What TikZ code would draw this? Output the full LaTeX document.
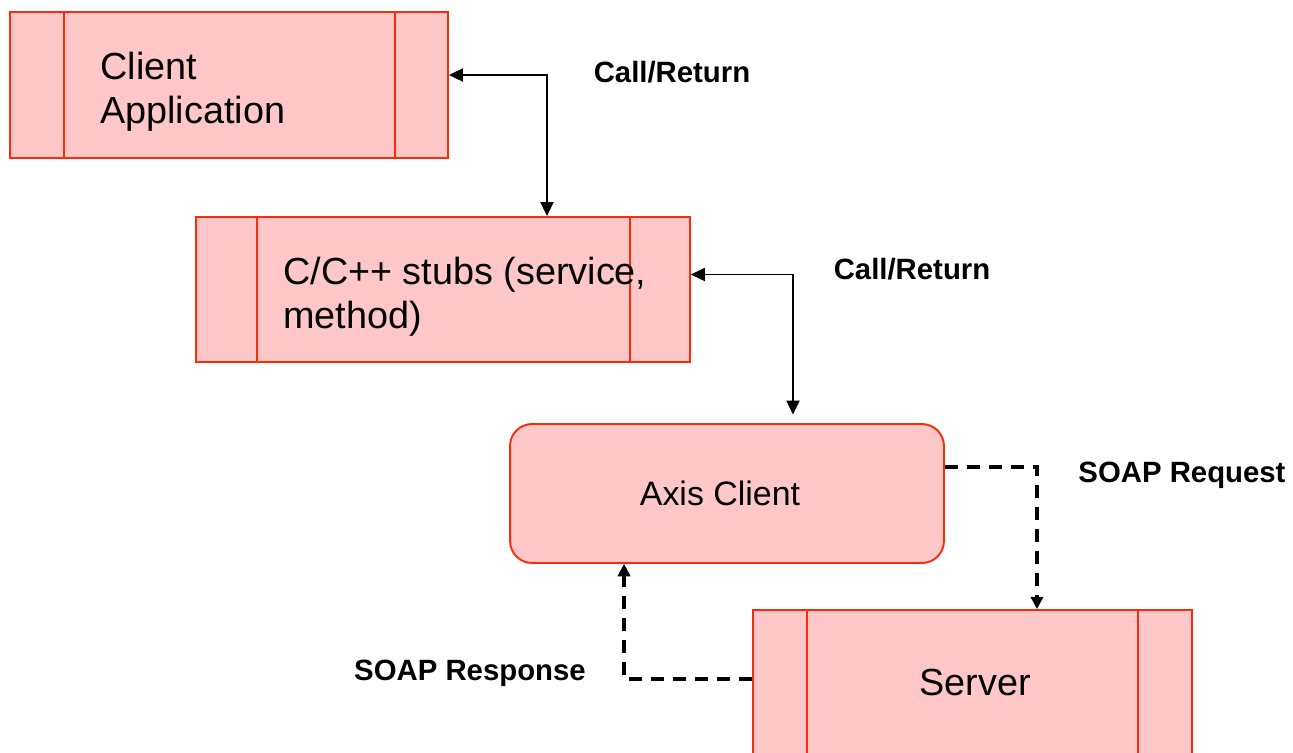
\documentclass[tikz,border=0pt]{standalone}
\usepackage{fontspec}
\setmainfont{Liberation Sans}
\usetikzlibrary{arrows.meta}
\definecolor{boxfill}{RGB}{255,199,199}
\definecolor{boxred}{RGB}{250,45,10}
\tikzset{
  box/.style={draw=boxred, fill=boxfill, line width=1.1pt, inner sep=0pt},
  boxline/.style={draw=boxred, line width=1.1pt},
  bigtext/.style={align=left, inner sep=0pt, font=\fontsize{21.5}{25}\selectfont},
  lbl/.style={font=\bfseries\fontsize{16.7}{20}\selectfont},
  callret/.style={line width=0.9pt, {Triangle[length=8pt,width=7.5pt]}-{Triangle[length=8pt,width=7.5pt]}},
  soap/.style={line width=2pt, dash pattern=on 7.5pt off 5pt, -{Triangle[length=7pt,width=7pt]}}
}
\begin{document}
\begin{tikzpicture}[x=0.02cm, y=-0.02cm]
    \useasboundingbox (0,0) rectangle (1293,752);
    \clip (0,0) rectangle (1293,752);
    % Boites
    \node[box, minimum width=8.76cm, minimum height=2.92cm] (client) at (229,85) {};
    \draw[boxline] ([xshift=1.1cm]client.north west) -- ([xshift=1.1cm]client.south west);
    \draw[boxline] ([xshift=-1.08cm]client.north east) -- ([xshift=-1.08cm]client.south east);
    \node[bigtext, anchor=west] (clienttxt) at (100,92) {Client\\Application};

    \node[box, minimum width=9.88cm, minimum height=2.9cm] (stubs) at (443,289.5) {};
    \draw[boxline] ([xshift=1.24cm]stubs.north west) -- ([xshift=1.24cm]stubs.south west);
    \draw[boxline] ([xshift=-1.22cm]stubs.north east) -- ([xshift=-1.22cm]stubs.south east);
    \node[bigtext, anchor=west] (stubstxt) at (283,297) {C/C++ stubs (service,\\method)};

    \node[box, rounded corners=0.44cm, minimum width=8.68cm, minimum height=2.78cm] (axis) at (727,493.5) {};
    \node[font=\fontsize{19.3}{23}\selectfont] (axistxt) at (720,493) {Axis Client};

    \node[box, minimum width=8.78cm, minimum height=2.96cm] (server) at (972.5,684) {};
    \draw[boxline] ([xshift=1.1cm]server.north west) -- ([xshift=1.1cm]server.south west);
    \draw[boxline] ([xshift=-1.1cm]server.north east) -- ([xshift=-1.1cm]server.south east);
    \node[font=\fontsize{21.5}{25}\selectfont] (servertxt) at (975,682) {Server};

    % Fleches
    \draw[callret] ([xshift=2.08cm]stubs.north) |- ([yshift=0.2cm]client.east);
    \draw[callret, shorten <=0.17cm] ([xshift=1.32cm]axis.north) |- ([yshift=0.3cm]stubs.east);
    \draw[soap] ([yshift=0.53cm]axis.east) -| ([xshift=1.29cm]server.north);
    \draw[soap] ([yshift=0.1cm]server.west) -| ([xshift=-2.06cm]axis.south);

    % Etiquettes
    \node[lbl] (lblcall1) at (672,72) {Call/Return};
    \node[lbl] (lblcall2) at (912,269) {Call/Return};
    \node[lbl] (lblreq) at (1182,475) {SOAP Request};
    \node[lbl] (lblresp) at (470,673) {SOAP Response};
\end{tikzpicture}
\end{document}
